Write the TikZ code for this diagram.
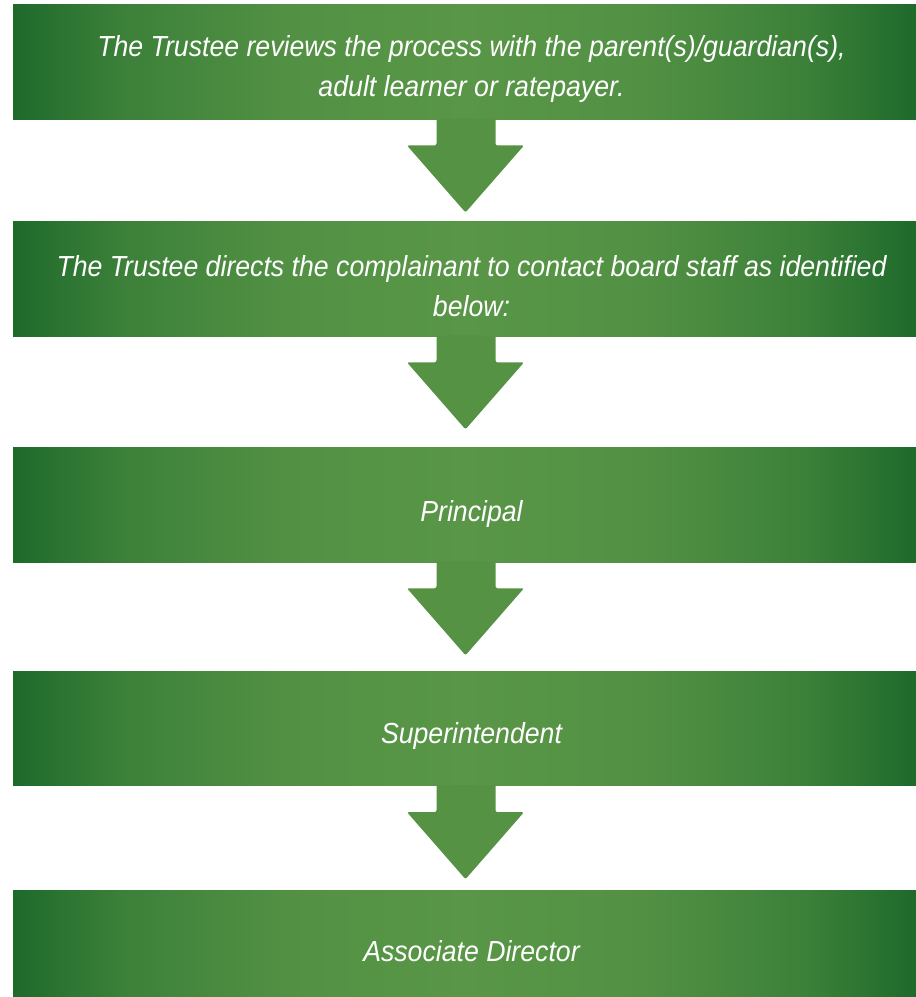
\documentclass[tikz,border=0pt]{standalone}
\usepackage{fontspec}
\setmainfont{Liberation Sans}[FakeStretch=0.92]
\usetikzlibrary{positioning,calc}

\definecolor{trdark}{HTML}{1E6A2B}
\definecolor{trlight}{HTML}{599647}
\definecolor{trarrow}{HTML}{569244}
\colorlet{trmid}{trlight!50!trdark}
\colorlet{trsoft}{trlight!88!trdark}

\pgfdeclarehorizontalshading{stepshade}{100bp}{color(0bp)=(trdark); color(25bp)=(trdark);
  color(31bp)=(trmid); color(40bp)=(trsoft); color(50bp)=(trlight); color(60bp)=(trsoft);
  color(69bp)=(trmid); color(75bp)=(trdark); color(100bp)=(trdark)}

\tikzset{
  stepbox/.style={shape=rectangle, inner sep=0pt, minimum width=903pt, minimum height=114.5pt,
    shading=stepshade},
  steptext/.style={text=white, align=center, font=\fontsize{29}{40}\selectfont\itshape, xshift=7pt, yshift=-7pt},
  flowarrow/.style={fill=trarrow, rounded corners=2pt}
}

\begin{document}
\begin{tikzpicture}[x=1pt,y=-1pt]
  \useasboundingbox (0,0) rectangle (916,997);
  \node(rev) [stepbox, label={[steptext, name=revtxt]center:The Trustee reviews the process with the parent(s)/guardian(s),\\adult learner or ratepayer.}] at (464.5,62) {};
  \node(dir) [stepbox, below=102pt of rev, label={[steptext, name=dirtxt]center:The Trustee directs the complainant to contact board staff as identified\\below:}] {};
  \node(pri) [stepbox, below=111pt of dir, label={[steptext, name=pritxt, yshift=-2pt]center:Principal}] {};
  \node(sup) [stepbox, below=109pt of pri, label={[steptext, name=suptxt]center:Superintendent}] {};
  \node(asd) [stepbox, below=104pt of sup, label={[steptext, name=asdtxt, yshift=3pt]center:Associate Director}] {};
  % block arrows between the steps
  \foreach \a in {rev,dir,pri,sup}
    \fill[flowarrow] ($(\a.south)+(-28,-1)$) -- ($(\a.south)+(-28,26)$) -- ($(\a.south)+(-57.5,26)$)
      -- ($(\a.south)+(1,93)$) -- ($(\a.south)+(59.5,26)$) -- ($(\a.south)+(31,26)$) -- ($(\a.south)+(31,-1)$);
\end{tikzpicture}
\end{document}
